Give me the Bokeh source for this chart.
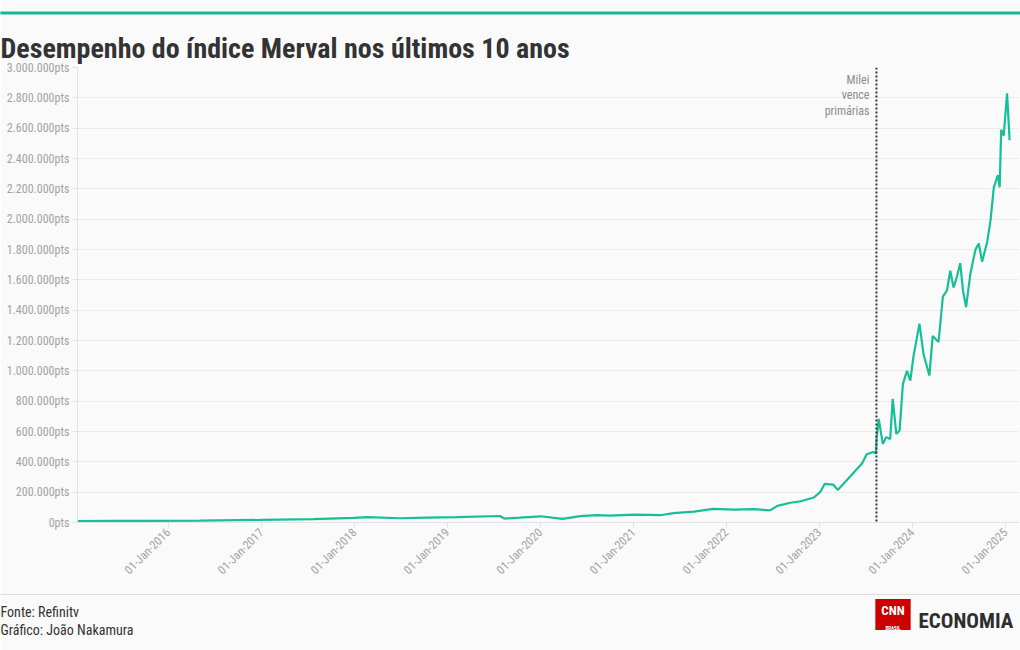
from datetime import datetime
from math import pi

from bokeh.embed import file_html
from bokeh.models import ColumnDataSource, FixedTicker, Label, Range1d, Span
from bokeh.plotting import figure
from bokeh.resources import INLINE

# ---------------- data ----------------
dates = [
    "2015-01-08", "2015-05-26", "2015-10-23", "2016-05-04", "2016-12-28",
    "2017-07-24", "2017-12-28", "2018-02-20", "2018-06-28", "2018-10-12",
    "2019-02-06", "2019-07-26", "2019-08-12", "2019-10-12", "2020-01-02",
    "2020-03-28", "2020-06-06", "2020-08-10", "2020-10-01", "2021-01-04",
    "2021-04-16", "2021-06-07", "2021-08-26", "2021-11-10", "2022-01-31",
    "2022-04-17", "2022-06-21", "2022-07-20", "2022-09-09", "2022-10-20",
    "2022-12-10", "2023-01-04", "2023-01-22", "2023-02-24", "2023-03-14",
    "2023-04-30", "2023-06-18", "2023-07-06", "2023-07-31", "2023-08-11",
    "2023-08-14", "2023-08-22", "2023-09-07", "2023-09-20", "2023-10-06",
    "2023-10-16", "2023-10-30", "2023-11-12", "2023-11-25", "2023-12-11",
    "2023-12-24", "2024-01-06", "2024-01-29", "2024-02-14", "2024-03-08",
    "2024-03-21", "2024-04-13", "2024-04-30", "2024-05-16", "2024-05-29",
    "2024-06-11", "2024-06-24", "2024-07-07", "2024-07-18", "2024-07-30",
    "2024-08-16", "2024-09-05", "2024-09-18", "2024-10-01", "2024-10-21",
    "2024-11-03", "2024-11-16", "2024-12-02", "2024-12-09", "2024-12-15",
    "2024-12-25", "2025-01-07", "2025-01-13", "2025-01-17",
]
merval = [
    10000, 11000, 11000, 13000, 17000,
    22000, 30000, 35000, 28000, 32000,
    36000, 43000, 26000, 32000, 41000,
    24000, 42000, 48000, 45000, 52000,
    48000, 62000, 72000, 90000, 85000,
    88000, 80000, 110000, 130000, 140000,
    165000, 200000, 255000, 250000, 215000,
    300000, 390000, 450000, 465000, 455000,
    560000, 683000, 518000, 562000, 550000,
    815000, 584000, 606000, 914000, 1000000,
    936000, 1100000, 1310000, 1110000, 969000,
    1230000, 1190000, 1490000, 1530000, 1660000,
    1550000, 1620000, 1710000, 1530000, 1420000,
    1640000, 1800000, 1840000, 1720000, 1850000,
    1990000, 2210000, 2290000, 2210000, 2590000,
    2550000, 2830000, 2650000, 2520000,
]

x_tick_dates = ["2016-01-01", "2017-01-01", "2018-01-01", "2019-01-01", "2020-01-01",
                "2021-01-01", "2022-01-01", "2023-01-01", "2024-01-01", "2025-01-01"]
x_tick_labels = ["01-Jan-2016", "01-Jan-2017", "01-Jan-2018", "01-Jan-2019", "01-Jan-2020",
                 "01-Jan-2021", "01-Jan-2022", "01-Jan-2023", "01-Jan-2024", "01-Jan-2025"]
y_ticks = [0, 200000, 400000, 600000, 800000, 1000000, 1200000, 1400000, 1600000,
           1800000, 2000000, 2200000, 2400000, 2600000, 2800000, 3000000]
y_tick_labels = ["0pts", "200.000pts", "400.000pts", "600.000pts", "800.000pts",
                 "1.000.000pts", "1.200.000pts", "1.400.000pts", "1.600.000pts",
                 "1.800.000pts", "2.000.000pts", "2.200.000pts", "2.400.000pts",
                 "2.600.000pts", "2.800.000pts", "3.000.000pts"]

event_date = "2023-08-13"
event_text = "Milei\nvence\nprimárias"
title_text = "Desempenho do índice Merval nos últimos 10 anos"
source_text = "Fonte: Refinitv"
credit_text = "Gráfico: João Nakamura"

# ---------------- style / geometry ----------------
FONT = "Roboto Condensed, Roboto"
BG = "#fafafa"
TEAL = "#17bf98"
GRAY_TXT = "#a3a3a3"
W, H = 1020, 650


def ms(s):
    return datetime.strptime(s, "%Y-%m-%d").timestamp() * 1000.0


try:
    Label(x=0, y=0, x_units="canvas", y_units="canvas", text="")
    UNITS = "canvas"
except Exception:
    UNITS = "screen"

src = ColumnDataSource(dict(x=[ms(d) for d in dates], y=merval))

p = figure(width=W, height=H, x_axis_type="datetime",
           x_range=Range1d(ms("2015-01-09"), ms("2025-02-21")),
           y_range=Range1d(0, 3000000),
           output_backend="svg", toolbar_location=None,
           min_border_left=77, min_border_right=2, min_border_top=67, min_border_bottom=128)
p.background_fill_color = BG
p.border_fill_color = BG
p.outline_line_color = None
p.xgrid.visible = False
p.ygrid.grid_line_color = "#ebebeb"
p.ygrid.grid_line_width = 1

p.yaxis.ticker = FixedTicker(ticks=y_ticks)
p.yaxis.major_label_overrides = {t: l for t, l in zip(y_ticks, y_tick_labels)}
p.xaxis.ticker = FixedTicker(ticks=[ms(d) for d in x_tick_dates])
p.xaxis.major_label_overrides = {ms(d): l for d, l in zip(x_tick_dates, x_tick_labels)}
p.xaxis.major_label_orientation = pi / 4

for ax in (p.xaxis, p.yaxis):
    ax.axis_line_color = "#e3e3e3"
    ax.major_tick_line_color = "#e3e3e3"
    ax.major_tick_out = 5
    ax.major_tick_in = 0
    ax.minor_tick_line_color = None
    ax.major_label_text_font = FONT
    ax.major_label_text_font_size = "12px"
    ax.major_label_text_color = GRAY_TXT
    ax.major_label_standoff = 3

p.line("x", "y", source=src, line_color=TEAL, line_width=2.2)

p.add_layout(Span(location=ms(event_date), dimension="height", line_color="#333333",
                  line_width=2, line_dash="2 2"))
p.add_layout(Label(x=ms(event_date), y=2967000, x_offset=-7, text=event_text,
                   text_font=FONT, text_font_size="12px", text_color="#8c8c8c",
                   text_align="right", text_baseline="top", text_line_height=1.13))


def cl(side, **kw):
    p.add_layout(Label(x_units=UNITS, y_units=UNITS, **kw), side)


# ---------------- header (above panel) ----------------
cl("above", x=510, y=12.5, text="\u00a0", text_font_size="1px", text_align="center",
   text_baseline="middle", background_fill_color="#1ab599",
   padding=dict(left=510, right=510, top=1, bottom=1))
cl("above", x=0, y=48, text=title_text, text_font=FONT, text_font_style="bold",
   text_font_size="28px", text_color="#333333", text_align="left", text_baseline="alphabetic")
cl("above", x=892.5, y=614, text="CNN", text_font=FONT, text_font_style="bold",
   text_font_size="13px", text_color="white", text_align="center", text_baseline="middle",
   background_fill_color="#cc0000", padding=dict(left=6, right=6, top=4, bottom=12))

# ---------------- footer (below panel) ----------------
cl("below", x=510, y=594, text="\u00a0", text_font_size="1px", text_align="center",
   text_baseline="middle", background_fill_color="#dddddd",
   padding=dict(left=510, right=510, top=0, bottom=0))
cl("below", x=0, y=611, text=source_text, text_font=FONT, text_font_size="14px",
   text_color="#333333", text_align="left", text_baseline="middle")
cl("below", x=0, y=629, text=credit_text, text_font=FONT, text_font_size="14px",
   text_color="#333333", text_align="left", text_baseline="middle")
cl("below", x=892.5, y=627, text="BRASIL", text_font=FONT, text_font_style="bold",
   text_font_size="5px", text_color="white", text_align="center", text_baseline="middle")
cl("below", x=918, y=620, text="ECONOMIA", text_font=FONT, text_font_style="bold",
   text_font_size="21px", text_color="#2e2e2e", text_align="left", text_baseline="middle")

open("out.html", "w").write(file_html(p, INLINE))
